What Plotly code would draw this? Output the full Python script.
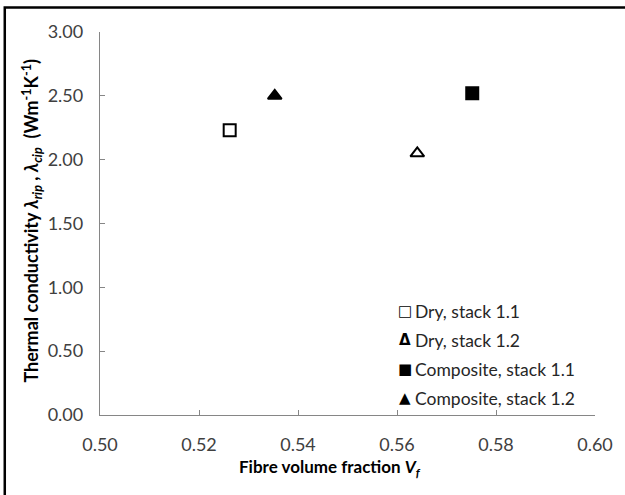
import plotly.graph_objects as go

# Measured fibre volume fraction and thermal conductivity per sample
series_names = ["Dry, stack 1.1", "Dry, stack 1.2", "Composite, stack 1.1", "Composite, stack 1.2"]
vf_values = [0.5262, 0.5641, 0.5752, 0.5353]
conductivity = [2.23, 2.05, 2.52, 2.50]

marker_symbols = ["square-open", "triangle-up-open", "square", "triangle-up"]
legend_glyphs = ["□", "Δ", "■", "▲"]
marker_sizes = [12, 12, 12, 12]

x_ticks = [0.50, 0.52, 0.54, 0.56, 0.58, 0.60]
y_ticks = [0.0, 0.5, 1.0, 1.5, 2.0, 2.5, 3.0]

FONT = "Lato"
W, H = 625, 495
L, R, T, B = 100, 26, 32, 80

fig = go.Figure()
for name, x, y, sym, sz in zip(series_names, vf_values, conductivity, marker_symbols, marker_sizes):
    fig.add_trace(go.Scatter(
        x=[x], y=[y], mode="markers", name=name, showlegend=False,
        marker=dict(symbol=sym, size=sz, color="#000000",
                    line=dict(color="#000000", width=2)),
    ))

axis_common = dict(
    showgrid=False, zeroline=False, showline=True,
    linecolor="#868686", linewidth=1.3,
    ticks="inside", ticklen=5, tickwidth=1.3, tickcolor="#868686",
    tickfont=dict(family=FONT, size=18, color="#404040"),
)

fig.update_xaxes(range=[0.50, 0.60], tickvals=x_ticks,
                 ticktext=[f"{v:.2f}" for v in x_ticks],
                 ticklabelstandoff=13, **axis_common)
fig.update_yaxes(range=[0.0, 3.0], tickvals=y_ticks,
                 ticktext=[f"{v:.2f}" for v in y_ticks],
                 ticklabelstandoff=12, **axis_common)

pw, ph = W - L - R, H - T - B

def px_x(p):
    return (p - L) / pw

def px_y(p):
    return (H - B - p) / ph

fig.add_annotation(
    text="<b>Fibre volume fraction <i>V<sub>f</sub></i></b>",
    xref="paper", yref="paper", x=px_x(332), y=px_y(468),
    xanchor="center", yanchor="middle", showarrow=False,
    font=dict(family=FONT, size=17, color="#000000"),
)
fig.add_annotation(
    text="<b>Thermal conductivity <i>λ<sub>rip</sub></i> , <i>λ<sub>cip</sub></i>  (Wm<sup>-1</sup>K<sup>-1</sup>)</b>",
    xref="paper", yref="paper", x=px_x(31), y=px_y(221),
    xanchor="center", yanchor="middle", textangle=-90, showarrow=False,
    font=dict(family=FONT, size=18, color="#000000"),
)

# Legend block: symbol glyph plus series label, one row per series
row_top, row_step = 311, 29
for i, (name, glyph) in enumerate(zip(series_names, legend_glyphs)):
    yc = row_top + i * row_step
    fig.add_annotation(
        text=f"<b>{glyph}</b>", xref="paper", yref="paper", x=px_x(407), y=px_y(yc),
        xanchor="center", yanchor="middle", showarrow=False,
        font=dict(family="DejaVu Sans", size=15, color="#000000"),
    )
    fig.add_annotation(
        text=name, xref="paper", yref="paper", x=px_x(416), y=px_y(yc),
        xanchor="left", yanchor="middle", showarrow=False,
        font=dict(family=FONT, size=17.5, color="#262626"),
    )

# Outer chart frame
fig.add_shape(type="rect", xref="paper", yref="paper",
              x0=px_x(4), x1=px_x(640), y0=px_y(510), y1=px_y(7.5),
              line=dict(color="#000000", width=2.5), fillcolor="rgba(0,0,0,0)")

fig.update_layout(
    width=W, height=H,
    margin=dict(l=L, r=R, t=T, b=B),
    paper_bgcolor="white", plot_bgcolor="white",
    showlegend=False,
)

fig.write_html("out.html")
